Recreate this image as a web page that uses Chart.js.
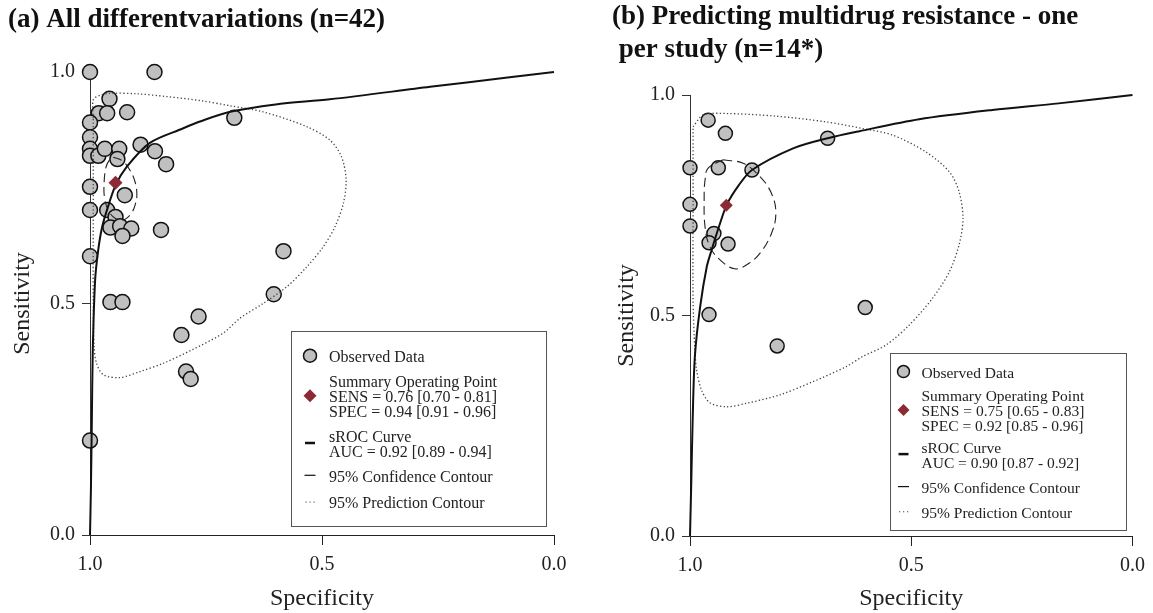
<!DOCTYPE html>
<html>
<meta charset="utf-8" />
<style>
	html, body {
		width: 100%;
		height: 100%;
		margin: 0;
		padding: 0;
		overflow: hidden;
		background: #fff;
	}
	#chartA { position: absolute; left: 0; top: 0; }
	#chartB { position: absolute; left: 595px; top: 0; }
</style>
<script src="https://cdn.jsdelivr.net/npm/chart.js"></script>
<body>
	<canvas id="chartA" width="595" height="613"></canvas>
	<canvas id="chartB" width="558" height="613"></canvas>
<script>

	// ---- (a) all variations ----
	var titleA = ["(a) All differentvariations (n=42)"];
	var obsSpecA = [1.0, 0.861, 0.958, 0.981, 0.963, 0.920, 1.0, 1.0, 1.0, 1.0, 0.982, 0.968, 0.937, 0.941, 0.891, 0.860, 0.836, 0.689,
		1.0, 0.925, 1.0, 0.963, 0.945, 0.956, 0.935, 0.911, 0.930, 0.847, 1.0, 0.583, 0.604, 0.956, 0.930, 0.766, 0.803, 0.793, 0.783, 1.0];
	var obsSensA = [1.0, 1.0, 0.942, 0.911, 0.911, 0.913, 0.891, 0.859, 0.834, 0.819, 0.819, 0.834, 0.834, 0.812, 0.843, 0.829, 0.801, 0.901,
		0.752, 0.734, 0.702, 0.702, 0.687, 0.664, 0.667, 0.662, 0.646, 0.659, 0.602, 0.613, 0.520, 0.503, 0.503, 0.472, 0.432, 0.353, 0.337, 0.204];
	var sumSpecA = [0.945];
	var sumSensA = [0.761];
	var rocSpecA = [1.0, 0.998, 0.996, 0.994, 0.989, 0.983, 0.975, 0.964, 0.945, 0.921, 0.871, 0.80, 0.763, 0.698, 0.60, 0.483, 0.267, 0.10, 0.0];
	var rocSensA = [0.0, 0.10, 0.25, 0.40, 0.55, 0.61, 0.66, 0.70, 0.755, 0.795, 0.847, 0.878, 0.893, 0.914, 0.93, 0.941, 0.968, 0.988, 1.0];
	var confSpecA = [0.950, 0.930, 0.914, 0.903, 0.899, 0.903, 0.909, 0.920, 0.931, 0.946, 0.961, 0.968, 0.970, 0.966, 0.958, 0.950];
	var confSensA = [0.816, 0.808, 0.788, 0.763, 0.734, 0.712, 0.698, 0.685, 0.680, 0.684, 0.702, 0.725, 0.749, 0.793, 0.810, 0.816];
	var predSpecA = [0.993, 0.993, 0.978, 0.957, 0.90, 0.835, 0.76, 0.698, 0.627, 0.533, 0.483, 0.458, 0.448, 0.454, 0.472, 0.497,
		0.533, 0.576, 0.627, 0.677, 0.713, 0.78, 0.842, 0.892, 0.935, 0.971, 0.986, 0.991, 0.993, 0.993, 0.993];
	var predSensA = [0.90, 0.94, 0.950, 0.954, 0.953, 0.947, 0.938, 0.927, 0.914, 0.882, 0.853, 0.817, 0.767, 0.716, 0.666, 0.623,
		0.579, 0.536, 0.500, 0.468, 0.436, 0.40, 0.371, 0.353, 0.340, 0.346, 0.371, 0.407, 0.5, 0.7, 0.90];
	var legendA = [
		["Observed Data"],
		["Summary Operating Point", "SENS = 0.76 [0.70 - 0.81]", "SPEC = 0.94 [0.91 - 0.96]"],
		["sROC Curve", "AUC = 0.92 [0.89 - 0.94]"],
		["95% Confidence Contour"],
		["95% Prediction Contour"]
	];

	// ---- (b) multidrug resistance ----
	var titleB = ["(b) Predicting multidrug resistance - one", " per study (n=14*)"];
	var obsSpecB = [0.959, 0.920, 1.0, 0.936, 0.860, 0.689, 1.0, 1.0, 0.946, 0.957, 0.914, 0.957, 0.604, 0.803];
	var obsSensB = [0.943, 0.913, 0.835, 0.835, 0.830, 0.902, 0.752, 0.703, 0.686, 0.665, 0.662, 0.502, 0.518, 0.431];
	var sumSpecB = [0.918];
	var sumSensB = [0.750];
	var rocSpecB = [1.0, 0.997, 0.994, 0.989, 0.977, 0.962, 0.951, 0.935, 0.917, 0.89, 0.860, 0.767, 0.689, 0.617, 0.482, 0.317, 0.167, 0.0];
	var rocSensB = [0.0, 0.127, 0.263, 0.407, 0.520, 0.611, 0.649, 0.70, 0.751, 0.795, 0.830, 0.879, 0.902, 0.918, 0.945, 0.966, 0.981, 1.0];
	var confSpecB = [0.925, 0.880, 0.842, 0.816, 0.806, 0.816, 0.842, 0.872, 0.899, 0.932, 0.955, 0.966, 0.968, 0.966, 0.959, 0.925];
	var confSensB = [0.853, 0.845, 0.815, 0.777, 0.732, 0.686, 0.641, 0.615, 0.606, 0.626, 0.656, 0.701, 0.769, 0.807, 0.834, 0.853];
	var predSpecB = [0.993, 0.970, 0.917, 0.805, 0.692, 0.610, 0.542, 0.467, 0.414, 0.392, 0.383, 0.392, 0.414, 0.452, 0.505,
		0.557, 0.610, 0.647, 0.722, 0.797, 0.872, 0.917, 0.955, 0.974, 0.985, 0.989, 0.993, 0.993, 0.993];
	var predSensB = [0.928, 0.955, 0.958, 0.952, 0.939, 0.924, 0.909, 0.871, 0.826, 0.781, 0.720, 0.660, 0.599, 0.539, 0.478,
		0.433, 0.407, 0.384, 0.350, 0.320, 0.301, 0.293, 0.302, 0.331, 0.376, 0.422, 0.535, 0.762, 0.928];
	var legendB = [
		["Observed Data"],
		["Summary Operating Point", "SENS = 0.75 [0.65 - 0.83]", "SPEC = 0.92 [0.85 - 0.96]"],
		["sROC Curve", "AUC = 0.90 [0.87 - 0.92]"],
		["95% Confidence Contour"],
		["95% Prediction Contour"]
	];

	var tickLabels = ["0.0", "0.5", "1.0"];
	var xTitle = "Specificity";
	var yTitle = "Sensitivity";

	var serif = '"Liberation Serif", "Times New Roman", serif';
	var grey = '#c0c0c0';
	var wine = '#8b2a35';

	function pts(xs, ys) {
		var out = [];
		for (var i = 0; i < xs.length; i++) out.push({x: xs[i], y: ys[i]});
		return out;
	}

	// small symbols used in the boxed legend
	function drawSymbol(ctx, kind, x, y, r) {
		ctx.save();
		if (kind == 'circle') {
			ctx.beginPath();
			ctx.arc(x, y, r, 0, Math.PI * 2);
			ctx.fillStyle = grey; ctx.fill();
			ctx.lineWidth = 1.5; ctx.strokeStyle = '#111'; ctx.stroke();
		} else if (kind == 'diamond') {
			ctx.beginPath();
			ctx.moveTo(x, y - r); ctx.lineTo(x + r, y); ctx.lineTo(x, y + r); ctx.lineTo(x - r, y);
			ctx.closePath();
			ctx.fillStyle = wine; ctx.fill();
		} else if (kind == 'solid') {
			ctx.beginPath(); ctx.moveTo(x - 5, y); ctx.lineTo(x + 5, y);
			ctx.lineWidth = 2.5; ctx.strokeStyle = '#111'; ctx.stroke();
		} else if (kind == 'dash') {
			ctx.beginPath(); ctx.moveTo(x - 5.5, y); ctx.lineTo(x + 5.5, y);
			ctx.lineWidth = 1.2; ctx.strokeStyle = '#111'; ctx.stroke();
		} else {
			ctx.fillStyle = '#666';
			for (var k = -1; k <= 1; k++) ctx.fillRect(x + k * 4 - 0.5, y - 0.5, 1.2, 1.2);
		}
		ctx.restore();
	}

	var boxLegend = {
		id: 'boxLegend',
		afterDatasetsDraw: function (chart, args, o) {
			var ctx = chart.ctx, a = chart.chartArea;
			var x0 = a.right - o.right - o.width;
			var y0 = a.bottom - o.bottom - o.height;
			ctx.save();
			ctx.fillStyle = '#fff';
			ctx.fillRect(x0, y0, o.width, o.height);
			ctx.strokeStyle = '#555'; ctx.lineWidth = 1;
			ctx.strokeRect(Math.round(x0) + 0.5, Math.round(y0) + 0.5, o.width, o.height);
			ctx.font = o.fontSize + 'px ' + serif;
			ctx.fillStyle = '#222'; ctx.textBaseline = 'middle'; ctx.textAlign = 'left';
			o.labels.forEach(function (lines, g) {
				var gy = y0 + o.rows[g];
				lines.forEach(function (t, k) { ctx.fillText(t, x0 + o.textX, gy + k * o.step); });
				var sy = gy + (lines.length - 1) * o.step / 2 - 2;
				drawSymbol(ctx, o.symbols[g], x0 + o.symX, sy, o.symR);
			});
			ctx.restore();
		}
	};

	function makeConfig(p) {
		var tickFont = {family: serif, size: 20};
		var titleFont = {family: serif, size: 24};
		return {
			type: 'scatter',
			data: {
				datasets: [
					{ data: pts(p.sumSpec, p.sumSens), pointStyle: 'rectRot', pointRadius: p.diamondR,
						backgroundColor: wine, borderColor: wine, borderWidth: 0, clip: false },
					{ data: pts(p.rocSpec, p.rocSens), showLine: true, pointRadius: 0, borderColor: '#111',
						borderWidth: 2, tension: 0.3, clip: false },
					{ data: pts(p.confSpec, p.confSens), showLine: true, pointRadius: 0, borderColor: '#222',
						borderWidth: 1.1, borderDash: [9, 5], tension: 0.4, clip: false },
					{ data: pts(p.predSpec, p.predSens), showLine: true, pointRadius: 0, borderColor: '#444',
						borderWidth: 1.3, borderDash: [1.3, 2.3], tension: 0.3, clip: false },
					{ data: pts(p.obsSpec, p.obsSens), pointRadius: p.circleR, backgroundColor: grey,
						borderColor: '#111', borderWidth: 1.5, clip: false }
				]
			},
			options: {
				responsive: false,
				animation: false,
				events: [],
				layout: { padding: p.padding },
				plugins: {
					legend: { display: false },
					tooltip: { enabled: false },
					title: {
						display: true, text: p.title, align: 'start', color: '#111',
						font: {family: serif, size: 27, weight: 'bold'},
						padding: p.titlePad
					},
					boxLegend: p.legend
				},
				scales: {
					x: {
						type: 'linear', min: 0, max: 1, reverse: true,
						ticks: { stepSize: 0.5, color: '#222', font: tickFont, padding: 8, maxRotation: 0,
							callback: function (v) { return tickLabels[Math.round(v * 2)]; } },
						grid: { drawOnChartArea: false, tickLength: 10, color: '#222' },
						border: { color: '#222', width: 1 },
						title: { display: true, text: xTitle, color: '#222', font: titleFont, padding: {top: 0, bottom: 0} },
						afterFit: function (s) { s.height = p.xHeight; }
					},
					y: {
						type: 'linear', min: 0, max: 1,
						ticks: { stepSize: 0.5, color: '#222', font: tickFont, padding: 7,
							callback: function (v) { return tickLabels[Math.round(v * 2)]; } },
						grid: { drawOnChartArea: false, tickLength: 8, color: '#333' },
						border: { color: '#333', width: 1 },
						title: { display: true, text: yTitle, color: '#222', font: titleFont, padding: {top: 0, bottom: 0} },
						afterFit: function (s) { s.width = p.yWidth; }
					}
				}
			},
			plugins: [boxLegend]
		};
	}

	window.onload = function () {
		new Chart(document.getElementById('chartA'), makeConfig({
			title: titleA, titlePad: {top: 4, bottom: 35.6},
			padding: {left: 8, right: 41, top: 0, bottom: 0}, yWidth: 82, xHeight: 78,
			obsSpec: obsSpecA, obsSens: obsSensA, sumSpec: sumSpecA, sumSens: sumSensA,
			rocSpec: rocSpecA, rocSens: rocSensA, confSpec: confSpecA, confSens: confSensA,
			predSpec: predSpecA, predSens: predSensA, circleR: 7.5, diamondR: 7,
			legend: { labels: legendA, symbols: ['circle', 'diamond', 'solid', 'dash', 'dot'],
				right: 8, bottom: 9, width: 255, height: 195, symX: 19, textX: 38, symR: 6.5,
				rows: [26.7, 51.3, 106.3, 146.3, 173], step: 15.4, fontSize: 16 }
		}));
		new Chart(document.getElementById('chartB'), makeConfig({
			title: titleB, titlePad: {top: 1, bottom: 29.2},
			padding: {left: 17, right: 19, top: 0, bottom: 0}, yWidth: 78, xHeight: 77,
			obsSpec: obsSpecB, obsSens: obsSensB, sumSpec: sumSpecB, sumSens: sumSensB,
			rocSpec: rocSpecB, rocSens: rocSensB, confSpec: confSpecB, confSens: confSensB,
			predSpec: predSpecB, predSens: predSensB, circleR: 7, diamondR: 6.5,
			legend: { labels: legendB, symbols: ['circle', 'diamond', 'solid', 'dash', 'dot'],
				right: 7, bottom: 6, width: 236, height: 177, symX: 14, textX: 32, symR: 6,
				rows: [20.6, 44, 95.6, 135.6, 160.6], step: 15, fontSize: 15.5 }
		}));
	};

</script>
</body>
</html>
